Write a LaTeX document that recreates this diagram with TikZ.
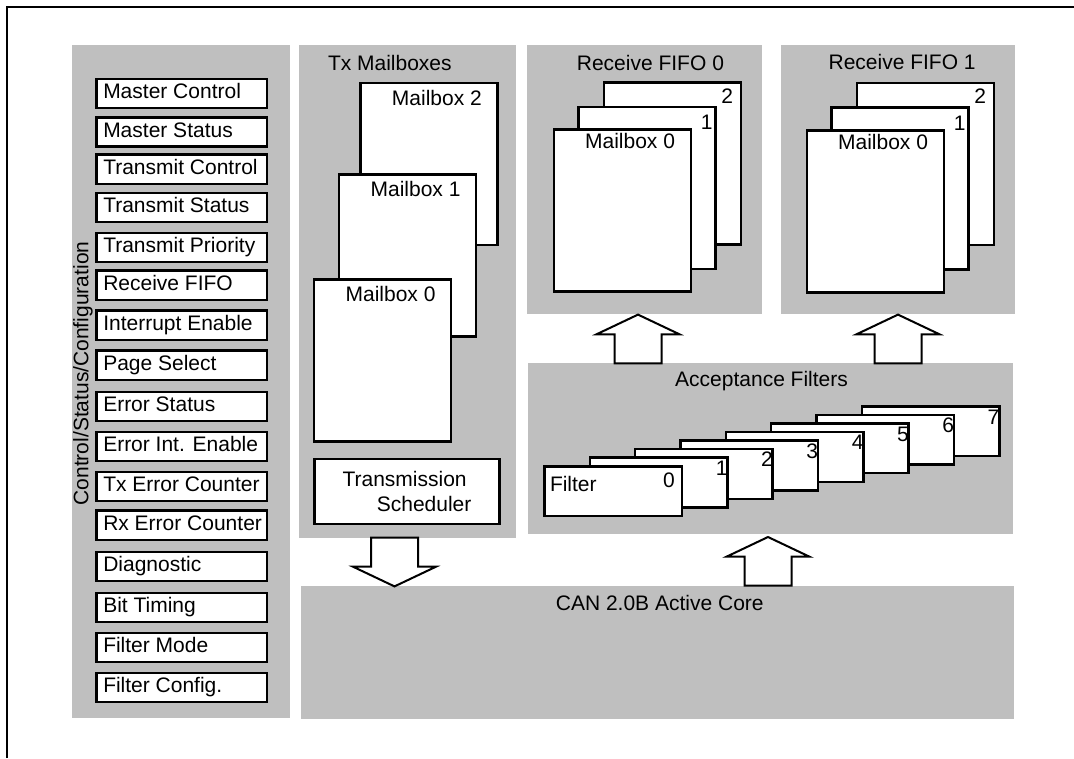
\documentclass[tikz,border=0pt]{standalone}
\usepackage{fontspec}
\setmainfont{Liberation Sans}
\usepackage{tikz}
\usetikzlibrary{calc}
\definecolor{canInk}{HTML}{000000}
\definecolor{canGray}{HTML}{BFBFBF}
\tikzset{
  panel/.style   ={fill=canGray,inner sep=0pt,outer sep=0pt,anchor=north west},
  card/.style    ={draw=canInk,line width=2.5pt,fill=white,inner sep=0pt,anchor=north west},
  reg/.style     ={card,minimum width=170.5pt,minimum height=29.2pt,inner xsep=7pt,
                   text height=15pt,text depth=4.5pt},
  mbox/.style    ={card,minimum width=137pt,minimum height=162pt},
  fbox/.style    ={card,minimum width=137.5pt,minimum height=49.8pt},
  ttl/.style     ={anchor=base west,inner sep=0pt,text=canInk},
  tag/.style     ={anchor=base east,inner sep=0pt,text=canInk},
  frameline/.style={canInk,line width=2pt},
  bigarrow/.style={draw=canInk,fill=white,line width=2pt,line join=miter},
  %% hollow block arrows, drawn from the base point
  pics/upblk/.style={code={
    \draw[bigarrow] (-23.5,0) -- (-23.5,-29) -- (-41.5,-29) -- (0,-48.7)
      -- (41.5,-29) -- (23.5,-29) -- (23.5,0) -- cycle;}},
  pics/downblk/.style={code={
    \draw[bigarrow] (-23.5,0) -- (-23.5,29) -- (-41.5,29) -- (0,48.7)
      -- (41.5,29) -- (23.5,29) -- (23.5,0) -- cycle;}},
}

\begin{document}
\begin{tikzpicture}[x=1pt,y=-1pt,font=\fontsize{21}{25}\selectfont]
\useasboundingbox (0,0) rectangle (1074,758);
\draw[frameline,line join=miter] (6.9,758) -- (6.9,7.3) -- (1074,7.3);

% grey blocks
\node[panel,minimum width=218pt,minimum height=673.5pt]  (regs)   at (72,44.5) {};
\node[panel,minimum width=217.5pt,minimum height=493.2pt](txpan)  at (298.5,44.5) {};
\node[panel,minimum width=235pt,minimum height=269.5pt]  (rxA)    at (527.3,44.5) {};
\node[panel,minimum width=234pt,minimum height=269.5pt]  (rxB)    at (781,44.5) {};
\node[panel,minimum width=484.4pt,minimum height=170.7pt](accpan) at (528.3,363.3) {};
\node[panel,minimum width=713pt,minimum height=132.8pt]  (core)   at (301,585.7) {};

% control / status / configuration registers
\def\W{156.5pt}
\foreach \i/\top/\name in {
  1/77.7/Master Control, 2/116/Master Status, 3/153.3/Transmit Control,
  4/191.7/Transmit Status, 5/231.7/Transmit Priority, 6/269.3/Receive FIFO,
  7/309.3/Interrupt Enable, 8/349.3/Page Select, 9/390.7/Error Status,
  10/430.7/Error Int. Enable, 11/470.7/Tx Error Counter, 12/509.3/Rx Error Counter,
  13/550.7/Diagnostic, 14/591.7/Bit Timing, 15/631.7/Filter Mode,
  16/671.7/Filter Config.}
{
  \node[reg] (r\i) at (95,\top) {\makebox[\W][l]{\name}};
}
\node[rotate=90,anchor=base,inner sep=0pt,text=canInk] (regttl) at (88.3,373.5)
  {Control/Status/Configuration};

% transmit side
\node[ttl] (txttl) at (327.8,70) {Tx Mailboxes};
\foreach \i/\x/\y in {2/359/81.7, 1/337.7/173.3, 0/312.7/278.3}
{
  \node[mbox] (mb\i) at (\x,\y) {};
  \node[tag] (mbl\i) at ($(mb\i.north east)+(-16.5,23.3)$) {Mailbox \i};
}
\node[card,minimum width=184.9pt,minimum height=64.8pt,align=left] (sched) at (313.3,457.7)
  {Transmission\\\hspace*{34.3pt}Scheduler};

% receive FIFOs
\node[ttl] (rxttlA) at (576.7,70) {Receive FIFO 0};
\node[ttl] (rxttlB) at (828.4,69.5) {Receive FIFO 1};
\foreach \f/\x/\y in {A/552.7/128.3, B/805.7/129}
{
  \node[mbox] (f\f2) at ({\x+50},{\y-47.3}) {};
  \node[tag] at ($(f\f2.north east)+(-9,22)$) {2};
  \node[mbox] (f\f1) at ({\x+24.5},{\y-22.6}) {};
  \node[tag] at ($(f\f1.north east)+(-4,24)$) {1};
  \node[mbox] (f\f0) at (\x,\y) {};
  \node[tag] at ($(f\f0.north east)+(-17,20)$) {Mailbox 0};
}

% acceptance filters, back to front
\node[ttl] (accttl) at (675,386) {Acceptance Filters};
\foreach \i in {7,6,...,0}
  \node[fbox] (flt\i) at ({543.3+45.33*\i},{465-8.57*\i}) {};
\foreach \i/\dx/\dy in {0/-8.3/22.3, 1/-1/19, 2/-1/19, 3/-1/19,
                        4/-1/19, 5/-1/19, 6/-1/19, 7/-1/19}
  \node[tag] (fltl\i) at ($(flt\i.north east)+(\dx,\dy)$) {\i};
\node[ttl] (fltname) at ($(flt0.north west)+(6.5,26.7)$) {Filter};

\node[ttl] (corettl) at (555.7,610) {CAN 2.0B Active Core};

% data paths
\pic at (394.5,0 |- txpan.south) {downblk};
\pic at (768,0 |- core.north)    {upblk};
\pic at (638,0 |- accpan.north)  {upblk};
\pic at (898,0 |- accpan.north)  {upblk};
\end{tikzpicture}
\end{document}
